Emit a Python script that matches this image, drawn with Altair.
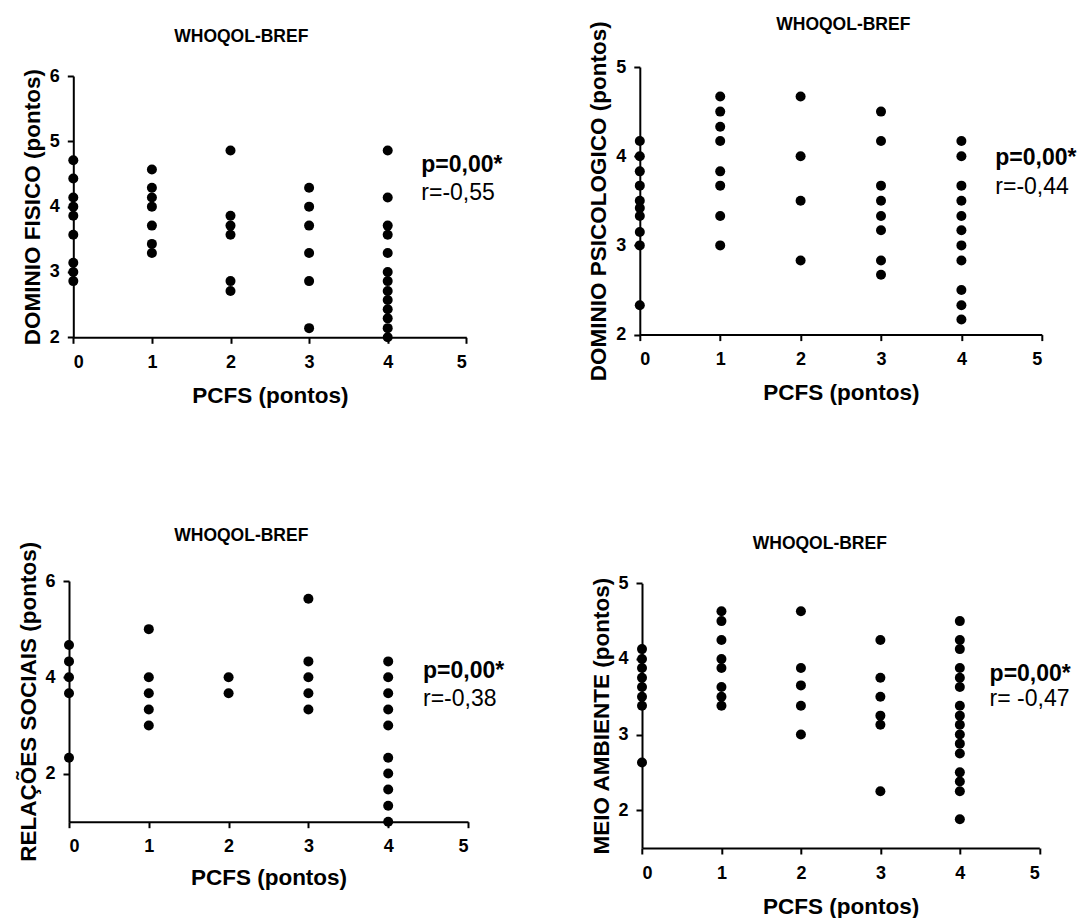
import altair as alt
import pandas as pd

FONT = "Liberation Sans"

# ---------------- data ----------------
pcfs_ticks = [0, 1, 2, 3, 4, 5]

pcfs_fisico = [0, 0, 0, 0, 0, 0, 0, 0, 0,
               1, 1, 1, 1, 1, 1, 1,
               2, 2, 2, 2, 2, 2,
               3, 3, 3, 3, 3, 3,
               4, 4, 4, 4, 4, 4, 4, 4, 4, 4, 4, 4, 4]
dominio_fisico = [4.71, 4.43, 4.14, 4.00, 3.86, 3.57, 3.14, 3.00, 2.86,
                  4.57, 4.29, 4.14, 4.00, 3.71, 3.43, 3.29,
                  4.86, 3.86, 3.71, 3.57, 2.86, 2.71,
                  4.29, 4.00, 3.71, 3.29, 2.86, 2.14,
                  4.86, 4.14, 3.71, 3.57, 3.29, 3.00, 2.86, 2.71, 2.57, 2.43, 2.29, 2.14, 2.00]

pcfs_psico = [0, 0, 0, 0, 0, 0, 0, 0, 0, 0,
              1, 1, 1, 1, 1, 1, 1, 1,
              2, 2, 2, 2,
              3, 3, 3, 3, 3, 3, 3, 3,
              4, 4, 4, 4, 4, 4, 4, 4, 4, 4, 4]
dominio_psico = [4.17, 4.00, 3.83, 3.67, 3.50, 3.42, 3.33, 3.15, 3.00, 2.33,
                 4.67, 4.50, 4.33, 4.17, 3.83, 3.67, 3.33, 3.00,
                 4.67, 4.00, 3.50, 2.83,
                 4.50, 4.17, 3.67, 3.50, 3.33, 3.17, 2.83, 2.67,
                 4.17, 4.00, 3.67, 3.50, 3.33, 3.17, 3.00, 2.83, 2.50, 2.33, 2.17]

pcfs_social = [0, 0, 0, 0, 0,
               1, 1, 1, 1, 1,
               2, 2,
               3, 3, 3, 3, 3,
               4, 4, 4, 4, 4, 4, 4, 4, 4, 4]
relacoes_sociais = [4.67, 4.33, 4.00, 3.67, 2.33,
                    5.00, 4.00, 3.67, 3.33, 3.00,
                    4.00, 3.67,
                    5.63, 4.33, 4.00, 3.67, 3.33,
                    4.33, 4.00, 3.67, 3.33, 3.00, 2.33, 2.00, 1.67, 1.33, 1.00]

pcfs_meio = [0, 0, 0, 0, 0, 0, 0, 0,
             1, 1, 1, 1, 1, 1, 1, 1,
             2, 2, 2, 2, 2,
             3, 3, 3, 3, 3, 3,
             4, 4, 4, 4, 4, 4, 4, 4, 4, 4, 4, 4, 4, 4, 4, 4]
meio_ambiente = [4.13, 4.00, 3.88, 3.75, 3.63, 3.50, 3.38, 2.63,
                 4.63, 4.50, 4.25, 4.00, 3.88, 3.63, 3.50, 3.38,
                 4.63, 3.88, 3.65, 3.38, 3.00,
                 4.25, 3.75, 3.50, 3.25, 3.13, 2.25,
                 4.50, 4.25, 4.13, 3.88, 3.75, 3.63, 3.38, 3.25, 3.13, 3.00, 2.88, 2.75,
                 2.50, 2.38, 2.25, 1.88]

panel_title = "WHOQOL-BREF"
x_title = "PCFS (pontos)"
y_titles = ["DOMINIO FISICO (pontos)", "DOMINIO PSICOLOGICO (pontos)",
            "RELAÇÕES SOCIAIS  (pontos)", "MEIO AMBIENTE (pontos)"]
p_texts = ["p=0,00*", "p=0,00*", "p=0,00*", "p=0,00*"]
r_texts = ["r=-0,55", "r=-0,44", "r=-0,38", "r= -0,47"]

AXIS_STYLE = dict(
    domainColor="black", domainWidth=2, tickColor="black", tickWidth=2, tickSize=6,
    grid=False, labelFont=FONT, labelFontSize=18, labelFontWeight="bold",
    labelColor="black", titleFont=FONT, titleFontSize=22.5, titleFontWeight="bold",
    titleColor="black",
)


def panel(xs, ys, ydom, yvals, w, h, xr, yr, yoff, ytitle, title_xy, p_xy, r_xy,
          ptxt, rtxt, xtitle_y):
    df = pd.DataFrame({"pcfs": xs, "score": ys})
    pts = alt.Chart(df).mark_circle(size=100, color="black", opacity=1).encode(
        x=alt.X("pcfs:Q",
                scale=alt.Scale(domain=[0, 5], range=xr, nice=False, zero=False),
                axis=alt.Axis(values=pcfs_ticks, format="d", title=x_title,
                              titleY=xtitle_y, titleBaseline="middle",
                              labelPadding=10, **AXIS_STYLE)),
        y=alt.Y("score:Q",
                scale=alt.Scale(domain=ydom, range=yr, nice=False, zero=False),
                axis=alt.Axis(values=yvals, format="d", title=ytitle,
                              titleX=-41, titleBaseline="middle", offset=yoff,
                              labelPadding=8, **AXIS_STYLE)),
    )
    ttl = alt.Chart(pd.DataFrame({"t": [panel_title]})).mark_text(
        font=FONT, fontSize=17.5, fontWeight="bold", color="black"
    ).encode(text="t:N", x=alt.value(title_xy[0]), y=alt.value(title_xy[1]))
    ptx = alt.Chart(pd.DataFrame({"t": [ptxt]})).mark_text(
        font=FONT, fontSize=23, fontWeight="bold", color="black", align="left",
        baseline="middle"
    ).encode(text="t:N", x=alt.value(p_xy[0]), y=alt.value(p_xy[1]))
    rtx = alt.Chart(pd.DataFrame({"t": [rtxt]})).mark_text(
        font=FONT, fontSize=23, fontWeight="normal", color="black", align="left",
        baseline="middle"
    ).encode(text="t:N", x=alt.value(r_xy[0]), y=alt.value(r_xy[1]))
    return alt.layer(pts, ttl, ptx, rtx).properties(width=w, height=h)


p1 = panel(pcfs_fisico, dominio_fisico, [2, 6], [2, 3, 4, 5, 6], 397.3, 270.3,
           [4.3, 397.3], [270.3, 9], -4.3, y_titles[0],
           (172.3, -29.7), (352.3, 98.3), (352.3, 126.3), p_texts[0], r_texts[0], 58)
p2 = panel(pcfs_psico, dominio_psico, [2, 5], [2, 3, 4, 5], 402, 267.6,
           [0, 402], [267.6, 0], 0, y_titles[1],
           (203.5, -41.7), (355.5, 91.3), (355.5, 120.3), p_texts[1], r_texts[1], 58)
p3 = panel(pcfs_social, relacoes_sociais, [1, 6], [2, 4, 6], 399, 240.7,
           [0, 399], [240.7, 0], 0, y_titles[2],
           (172.3, -45), (354, 90), (354, 118), p_texts[2], r_texts[2], 56)
p4 = panel(pcfs_meio, meio_ambiente, [1.5, 5], [2, 3, 4, 5], 399.5, 267,
           [2.2, 399.5], [267, 2.3], -2.2, y_titles[3],
           (180, -37), (349.8, 93), (349.8, 118), p_texts[3], r_texts[3], 58)

chart = alt.concat(p1, p2, p3, p4, columns=2,
                   spacing={"row": 243, "column": 171.8}, bounds="flush").properties(
    padding={"left": 16, "top": 16, "right": 2, "bottom": 2}
).configure_view(stroke=None)

chart.save("out.html", embed_options={"renderer": "svg", "actions": False})
